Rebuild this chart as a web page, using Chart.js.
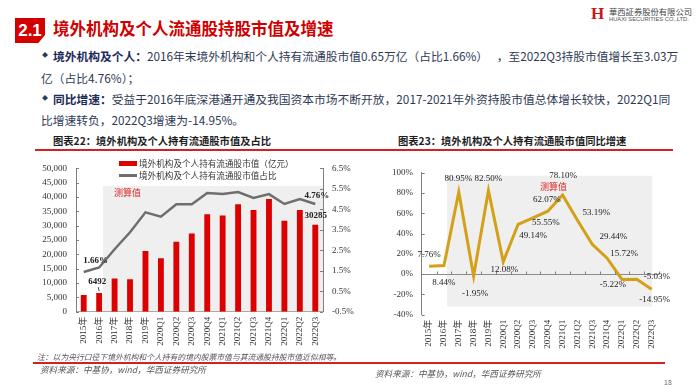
<!DOCTYPE html>
<html><head><meta charset="utf-8">
<script src="https://cdn.jsdelivr.net/npm/chart.js@4"></script>
<style>
html,body{margin:0;padding:0;background:#fff;}
body{width:700px;height:392px;position:relative;overflow:hidden;font-family:'Noto Sans CJK SC','Noto Sans',sans-serif;}
.abs{position:absolute;white-space:nowrap;}
canvas{position:absolute;}
.body{font-size:11.75px;line-height:16px;color:#2e3a55;}
.body b{color:#1c2b5a;}
.ct{font-size:10.3px;line-height:14px;font-weight:700;color:#1e1e1e;}
.lg{font-size:8.6px;line-height:12px;color:#333;}
.src{font-size:8.6px;line-height:12px;color:#555;font-style:italic;}
.red{color:#e01f1f;font-size:9px;line-height:12px;}
</style></head><body>

<!-- header -->
<div class="abs" style="left:15px;top:18px;width:30px;height:25px;background:#d40000;clip-path:polygon(0 0,100% 0,100% 68%,78% 100%,0 100%);"></div>
<div class="abs" style="left:15px;top:18px;width:30px;height:25px;line-height:25px;text-align:center;color:#fff;font-family:'Liberation Sans',Arial,sans-serif;font-weight:700;font-size:17px;">2.1</div>
<div class="abs" style="left:53px;top:17px;font-size:16.5px;line-height:22px;font-weight:700;color:#d00000;">境外机构及个人流通股持股市值及增速</div>

<div class="abs" style="left:591px;top:5px;font-family:'Liberation Serif',serif;font-weight:700;font-size:17px;line-height:18px;color:#c8161d;">H</div>
<div class="abs" style="left:609px;top:6px;font-size:8.3px;line-height:10px;color:#444;">華西証券股份有限公司</div>
<div class="abs" style="left:609px;top:16px;font-family:'Liberation Sans',sans-serif;font-size:5.8px;line-height:7px;color:#555;">HUAXI SECURITIES CO.,LTD.</div>

<!-- body text -->
<div class="abs" style="left:42px;top:49px;font-size:6px;line-height:12px;color:#2e3a55;">◆</div>
<div class="abs body" style="left:53px;top:48px;word-spacing:6px;"><b>境外机构及个人：</b>2016年末境外机构和个人持有流通股市值0.65万亿（占比1.66%） ，至2022Q3持股市值增长至3.03万</div>
<div class="abs body" style="left:41px;top:70px;">亿（占比4.76%）；</div>
<div class="abs" style="left:42px;top:92px;font-size:6px;line-height:12px;color:#2e3a55;">◆</div>
<div class="abs body" style="left:53px;top:91px;"><b>同比增速：</b>受益于2016年底深港通开通及我国资本市场不断开放，2017-2021年外资持股市值总体增长较快，2022Q1同</div>
<div class="abs body" style="left:41px;top:112px;">比增速转负，2022Q3增速为-14.95%。</div>

<!-- chart titles -->
<div class="abs ct" style="left:53px;top:134px;">图表22：境外机构及个人持有流通股市值及占比</div>
<div class="abs ct" style="left:398px;top:134px;">图表23：境外机构及个人持有流通股市值同比增速</div>
<div class="abs" style="left:35px;top:149px;width:638px;height:1.5px;background:#d42020;"></div>

<canvas id="c1" width="355" height="210" style="left:0;top:150px;"></canvas>
<canvas id="c2" width="345" height="210" style="left:355px;top:150px;"></canvas>

<!-- left legend -->
<div class="abs" style="left:119px;top:161px;width:18px;height:5px;background:#dd0000;"></div>
<div class="abs lg" style="left:139px;top:157px;">境外机构及个人持有流通股市值（亿元）</div>
<div class="abs" style="left:119px;top:174px;width:18px;height:2.5px;background:#6e6e6e;"></div>
<div class="abs lg" style="left:139px;top:169px;">境外机构及个人持有流通股市值占比</div>

<div class="abs red" style="left:114px;top:187px;">测算值</div>
<div class="abs red" style="left:540px;top:181px;">测算值</div>

<!-- notes -->
<div class="abs src" style="left:37px;top:351px;font-size:7.8px;line-height:11px;">注：以为央行口径下境外机构和个人持有的境内股票市值与其流通股持股市值近似相等。</div>
<div class="abs" style="left:33px;top:362px;width:632px;height:1.5px;background:#d42020;"></div>
<div class="abs src" style="left:40px;top:363px;">资料来源：中基协，wind，华西证券研究所</div>
<div class="abs src" style="left:375px;top:367px;">资料来源：中基协，wind，华西证券研究所</div>
<div class="abs" style="left:664px;top:377px;font-size:7px;line-height:10px;color:#666;">18</div>

<script>
const categories = ['2015年','2016年','2017年','2018年','2019年','2020Q1','2020Q2','2020Q3','2020Q4','2021Q1','2021Q2','2021Q3','2021Q4','2022Q1','2022Q2','2022Q3'];
// 境外机构及个人持有流通股市值（亿元）
const marketValue = [5800, 6492, 11600, 11300, 21200, 18600, 24400, 27300, 34000, 33500, 37500, 35500, 39300, 31700, 35500, 30285];
// 占比 (%)
const shareRatio = [1.44, 1.66, 2.55, 3.38, 4.35, 4.14, 4.74, 4.74, 5.29, 5.24, 5.34, 5.05, 5.24, 4.76, 5.0, 4.76];
// 同比增速 (%)
const yoyGrowth = [7.76, 8.44, 80.95, -1.95, 82.50, 12.08, 49.14, 55.55, 62.07, 78.10, 53.19, 29.44, 15.72, -5.22, -5.03, -14.95];

const valueTicks = [0, 5000, 10000, 15000, 20000, 25000, 30000, 35000, 40000, 45000, 50000];
const ratioTicks = [-0.5, 0.5, 1.5, 2.5, 3.5, 4.5, 5.5, 6.5];
const growthTicks = [-40, -20, 0, 20, 40, 60, 80, 100];

const serif = "'Liberation Serif','Times New Roman','Noto Sans CJK SC',serif";
const axisGray = '#7f7f7f';

const decor = {
  id: 'decor',
  beforeDraw(chart, args, o) {
    const {ctx, chartArea} = chart;
    const x = chart.scales.x, y = chart.scales[o.shadeAxis];
    const x0 = x.getPixelForValue(o.shadeFrom);
    const x1 = o.shadeTo == null ? chartArea.right : x.getPixelForValue(o.shadeTo);
    const y0 = y.getPixelForValue(o.shadeTop);
    const y1 = o.shadeBottom == null ? chartArea.bottom : y.getPixelForValue(o.shadeBottom);
    ctx.save();
    ctx.fillStyle = '#efefef';
    ctx.fillRect(x0, y0, x1 - x0, y1 - y0);
    ctx.restore();
  },
  afterDraw(chart, args, o) {
    const ctx = chart.ctx;
    ctx.save();
    ctx.strokeStyle = axisGray; ctx.lineWidth = 1;
    (o.yTicks || []).forEach(id => {
      const s = chart.scales[id];
      const ax = s.position === 'left' ? s.right : s.left;
      const dir = s.position === 'left' ? 1 : -1;
      s.ticks.forEach((t, i) => {
        const p = Math.round(s.getPixelForTick(i)) + 0.5;
        ctx.beginPath(); ctx.moveTo(ax, p); ctx.lineTo(ax + dir * 3, p); ctx.stroke();
      });
    });
    if (o.zeroTicks) {
      const x = chart.scales.x, y = chart.scales.y;
      const py = Math.round(y.getPixelForValue(0)) + 0.5;
      for (let i = 0; i < categories.length; i++) {
        const px = Math.round(x.getPixelForValue(i + 0.5)) + 0.5;
        ctx.beginPath(); ctx.moveTo(px, py); ctx.lineTo(px, py - 3); ctx.stroke();
      }
    }
    // data labels
    (o.labels || []).forEach(l => {
      const ds = chart.data.datasets[l.ds];
      const el = chart.getDatasetMeta(l.ds).data[l.i];
      const v = ds.data[l.i];
      const txt = l.pct ? v.toFixed(2) + '%' : String(v);
      ctx.font = (l.bold ? 'bold ' : '') + '9px ' + serif;
      ctx.fillStyle = '#222';
      ctx.textAlign = 'center'; ctx.textBaseline = 'middle';
      ctx.fillText(txt, el.x + l.dx, el.y + l.dy);
      if (l.leader) {
        ctx.strokeStyle = '#444';
        ctx.beginPath(); ctx.moveTo(el.x - 1, el.y - 6); ctx.lineTo(el.x, el.y - 2); ctx.stroke();
      }
    });
    ctx.restore();
  }
};

const tickFont = {family: serif, size: 9};

new Chart(document.getElementById('c1'), {
  type: 'bar',
  data: {
    labels: categories,
    datasets: [
      {type: 'line', label: '境外机构及个人持有流通股市值占比', data: shareRatio, yAxisID: 'y1',
       borderColor: '#6e6e6e', borderWidth: 2.5, pointRadius: 0, tension: 0, order: 0, borderJoinStyle: 'miter'},
      {type: 'bar', label: '境外机构及个人持有流通股市值（亿元）', data: marketValue, yAxisID: 'y',
       backgroundColor: '#dd0000', barPercentage: 0.38, categoryPercentage: 1, order: 1}
    ]
  },
  options: {
    responsive: false, animation: false, devicePixelRatio: 1,
    layout: {padding: {top: 18.3, left: 0, right: 0, bottom: 0}},
    plugins: {
      legend: {display: false}, tooltip: {enabled: false},
      decor: {
        shadeAxis: 'y', shadeFrom: 1.25, shadeTop: 43800,
        yTicks: ['y', 'y1'],
        labels: [
          {ds: 0, i: 1, dx: -3.5, dy: -7, pct: true, bold: true},
          {ds: 1, i: 1, dx: -2, dy: -11.5, bold: true, leader: true},
          {ds: 0, i: 15, dx: 1.5, dy: -8.5, pct: true, bold: true},
          {ds: 1, i: 15, dx: 0.5, dy: -9, bold: true}
        ]
      }
    },
    scales: {
      x: {
        grid: {display: false, drawTicks: false},
        border: {display: true, color: '#aaa'},
        ticks: {autoSkip: false, maxRotation: 90, minRotation: 90, padding: 5, font: tickFont, color: '#333'},
        afterFit(s) { s.height = 48.3; }
      },
      y: {
        position: 'left', min: valueTicks[0], max: valueTicks[valueTicks.length - 1],
        ticks: {stepSize: valueTicks[1] - valueTicks[0], padding: 9, font: tickFont, color: '#333',
                callback: v => v.toLocaleString('en-US')},
        grid: {display: false, drawTicks: false},
        border: {color: axisGray},
        afterFit(s) { s.width = 76; }
      },
      y1: {
        position: 'right', min: ratioTicks[0], max: ratioTicks[ratioTicks.length - 1],
        ticks: {stepSize: ratioTicks[1] - ratioTicks[0], padding: 9, font: tickFont, color: '#333',
                callback: v => v.toFixed(1) + '%'},
        grid: {display: false, drawTicks: false},
        border: {color: axisGray},
        afterFit(s) { s.width = 32; }
      }
    }
  },
  plugins: [decor]
});

const growthOffsets = [
  [0, -12], [0, 17.5], [-0.5, -13], [1.5, 18], [0, -11.5], [1, 7.5], [15, 11], [13, 5],
  [-1, -12], [0.5, -19], [19, -8], [21, -8], [17, -5], [-9, 5], [20, -2.5], [3, 10]
];

new Chart(document.getElementById('c2'), {
  type: 'line',
  data: {
    labels: categories,
    datasets: [{label: '同比增速', data: yoyGrowth, borderColor: '#d4a017', borderWidth: 3,
                pointRadius: 0, tension: 0, borderJoinStyle: 'miter'}]
  },
  options: {
    responsive: false, animation: false, devicePixelRatio: 1,
    layout: {padding: {top: 22.7, left: 0, right: 41, bottom: 0}},
    plugins: {
      legend: {display: false}, tooltip: {enabled: false},
      decor: {
        shadeAxis: 'y', shadeFrom: 1.2, shadeTo: 15.05, shadeTop: 97, shadeBottom: -32,
        yTicks: ['y'], zeroTicks: true,
        labels: growthOffsets.map((d, i) => ({ds: 0, i: i, dx: d[0], dy: d[1], pct: true}))
      }
    },
    scales: {
      x: {
        offset: true,
        grid: {display: false, drawTicks: false},
        border: {display: false},
        ticks: {autoSkip: false, maxRotation: 90, minRotation: 90, padding: 5, font: tickFont, color: '#333'},
        afterFit(s) { s.height = 45.3; }
      },
      y: {
        min: growthTicks[0], max: growthTicks[growthTicks.length - 1],
        ticks: {stepSize: growthTicks[1] - growthTicks[0], padding: 8.7, font: tickFont, color: '#333',
                callback: v => v + '%'},
        grid: {drawTicks: false, color: c => (c.tick && c.tick.value === 0) ? '#8c8c8c' : 'rgba(0,0,0,0)'},
        border: {color: axisGray},
        afterFit(s) { s.width = 66.7; }
      }
    }
  },
  plugins: [decor]
});
</script>
</body></html>
